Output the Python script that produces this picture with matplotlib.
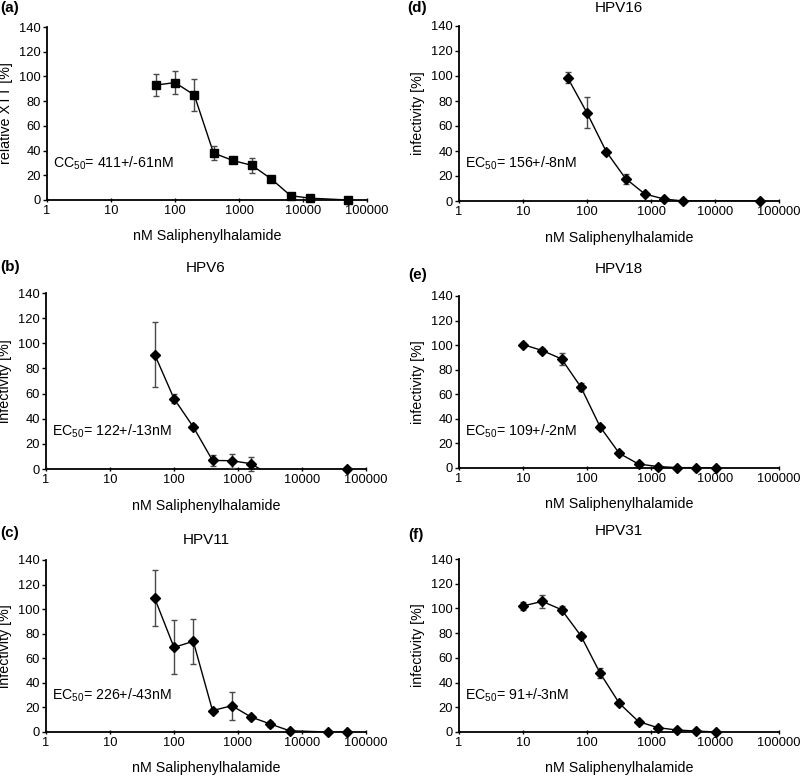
import numpy as np
import matplotlib
matplotlib.use('Agg')
import matplotlib.pyplot as plt
from matplotlib.ticker import FixedLocator, NullLocator

plt.rcParams['font.family'] = ['Liberation Sans', 'DejaVu Sans']
plt.rcParams['mathtext.fontset'] = 'custom'
plt.rcParams['mathtext.rm'] = 'Liberation Sans'
plt.rcParams['mathtext.default'] = 'regular'

# (a) cytotoxicity, XTT
a_conc = [50, 100, 200, 400, 800, 1600, 3200, 6400, 12800, 51200]
a_val = [93, 95, 85, 38, 32, 28, 17, 3.5, 1.5, 0]
a_err = [9, 9.5, 13, 5.5, 2, 6, 1.5, 1, 1, 0.5]

# (b) HPV6
b_conc = [50, 100, 200, 400, 800, 1600, 3200, 51200]
b_val = [91, 56, 33.5, 6.8, 6.6, 4.2, -5, 0]
b_err = [26, 3.5, 2, 4.2, 5.6, 5.6, 0, 0]

# (c) HPV11
c_conc = [50, 100, 200, 400, 800, 1600, 3200, 6400, 25600, 51200]
c_val = [108.8, 68.9, 73.8, 17.4, 21.4, 12.2, 6.5, 1, 0, 0]
c_err = [22.8, 22, 18.3, 1, 11.5, 1.5, 2.5, 0.5, 0, 0]

# (d) HPV16
d_conc = [50, 100, 200, 400, 800, 1600, 3200, 51200]
d_val = [98.5, 70.5, 39.5, 18, 5.6, 1.6, 0, 0]
d_err = [4.5, 12.5, 1.5, 4, 1, 0.8, 0.3, 0.3]

# (e) HPV18
e_conc = [10, 20, 40, 80, 160, 320, 640, 1280, 2560, 5120, 10240]
e_val = [100.5, 95.6, 88.8, 66, 33.6, 11.9, 3.2, 1.2, 0.3, 0.3, 0]
e_err = [1.5, 2, 5, 3, 1, 1, 0.8, 0.5, 0.3, 0.3, 0.2]

# (f) HPV31
f_conc = [10, 20, 40, 80, 160, 320, 640, 1280, 2560, 5120, 10240]
f_val = [102, 105.7, 99, 78, 47.7, 23.2, 8.4, 3.5, 1.6, 0.8, 0]
f_err = [3, 5, 3, 2, 4, 1, 0.8, 0.5, 0.5, 0.3, 0.2]

x_ticks = [1, 10, 100, 1000, 10000, 100000]
y_ticks = [0, 20, 40, 60, 80, 100, 120, 140]
xlabel = 'nM Saliphenylhalamide'

W, H = 800, 777
fig = plt.figure(figsize=(W / 100, H / 100), dpi=100)


def px_axes(left, top, right, bottom):
    return fig.add_axes([left / W, 1 - bottom / H, (right - left) / W, (bottom - top) / H])


def draw_panel(ax, conc, val, err, marker, ms, title, title_off, ylabel, note):
    conc = np.array(conc, dtype=float)
    val = np.array(val, dtype=float)
    err = np.array(err, dtype=float)
    ax.plot(conc, val, color='black', lw=1.0, zorder=2)
    vis = val >= 0
    ax.errorbar(conc[vis], val[vis], yerr=err[vis], fmt='none', ecolor='#4a4a4a',
                elinewidth=1.0, capsize=2, capthick=1.0, zorder=3, clip_on=False)
    ax.plot(conc[vis], val[vis], linestyle='none', marker=marker, ms=ms,
            color='black', zorder=4, clip_on=False)

    ax.set_xscale('log')
    ax.set_xlim(1, 100000)
    ax.set_ylim(0, 140)
    ax.xaxis.set_major_locator(FixedLocator(x_ticks))
    ax.xaxis.set_minor_locator(NullLocator())
    ax.set_xticklabels([str(t) for t in x_ticks])
    ax.set_yticks(y_ticks)
    ax.tick_params(axis='both', labelsize=9.3, colors='black', width=1)
    ax.tick_params(axis='y', direction='out', length=3, pad=1.5)
    ax.tick_params(axis='x', direction='inout', length=3, pad=2)
    for side in ['top', 'right']:
        ax.spines[side].set_visible(False)
    for side in ['left', 'bottom']:
        ax.spines[side].set_linewidth(1.3)

    ax.set_xlabel(xlabel, fontsize=10.3)
    ax.xaxis.set_label_coords(0.5, -0.17)
    ax.set_ylabel(ylabel, fontsize=10.3)
    ax.yaxis.set_label_coords(-0.105, 0.5)
    if title:
        ax.text(0.5, 1 + title_off / 173, title, transform=ax.transAxes,
                ha='center', va='center', fontsize=11)
    ax.text(0.02, 0.215, note, transform=ax.transAxes, ha='left', va='center', fontsize=10.2)


ax_a = px_axes(47, 27, 367, 200)
ax_d = px_axes(459, 26, 779, 201)
ax_b = px_axes(46, 293, 366, 469)
ax_e = px_axes(459, 296, 779, 468)
ax_c = px_axes(46, 560, 366, 732)
ax_f = px_axes(459, 559, 779, 732)

draw_panel(ax_a, a_conc, a_val, a_err, 's', 5.5, None, 0, 'relative XTT [%]',
           'CC$_{50}$= 411+/-61nM')
draw_panel(ax_d, d_conc, d_val, d_err, 'D', 4.8, 'HPV16', 18, 'infectivity [%]',
           'EC$_{50}$= 156+/-8nM')
draw_panel(ax_b, b_conc, b_val, b_err, 'D', 4.8, 'HPV6', 25, 'infectivity [%]',
           'EC$_{50}$= 122+/-13nM')
draw_panel(ax_e, e_conc, e_val, e_err, 'D', 4.8, 'HPV18', 27, 'infectivity [%]',
           'EC$_{50}$= 109+/-2nM')
draw_panel(ax_c, c_conc, c_val, c_err, 'D', 4.8, 'HPV11', 20, 'infectivity [%]',
           'EC$_{50}$= 226+/-43nM')
draw_panel(ax_f, f_conc, f_val, f_err, 'D', 4.8, 'HPV31', 28, 'infectivity [%]',
           'EC$_{50}$= 91+/-3nM')

tags = [('(a)', 0, 8), ('(b)', 0, 267), ('(c)', 0, 533),
        ('(d)', 407, 8), ('(e)', 408, 275), ('(f)', 408, 535)]
for tag, tx, ty in tags:
    fig.text(tx / W, 1 - ty / H, tag, ha='left', va='center', fontsize=11, fontweight='bold')

fig.savefig('out.png', dpi=100)
